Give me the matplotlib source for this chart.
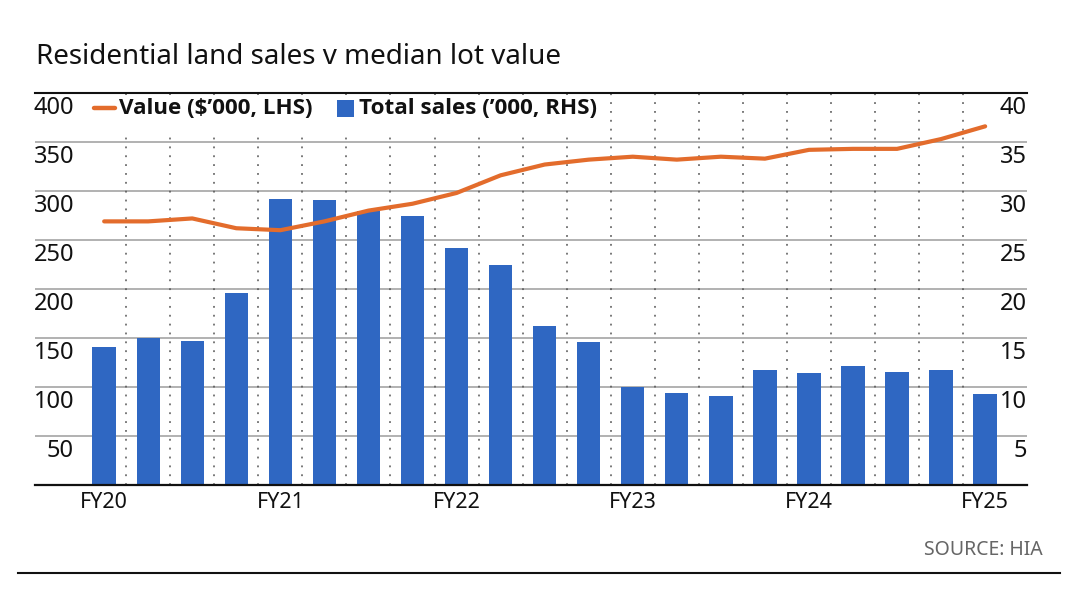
import matplotlib
matplotlib.use("Agg")
import matplotlib.pyplot as plt
import matplotlib.transforms as mtransforms
from matplotlib.lines import Line2D
from matplotlib.patches import Rectangle

# ---------------- data ----------------
x_labels = ["FY20", "FY21", "FY22", "FY23", "FY24", "FY25"]
x_label_pos = [0, 4, 8, 12, 16, 20]
sales = [14.1, 15.0, 14.7, 19.6, 29.2, 29.1, 28.0, 27.4, 24.2, 22.5, 16.2,
         14.6, 10.0, 9.4, 9.1, 11.7, 11.4, 12.1, 11.5, 11.7, 9.3]
value = [269, 269, 272, 262, 260, 269, 280, 287, 298, 316, 327,
         332, 335, 332, 335, 333, 342, 343, 343, 353, 366]
left_ticks = [50, 100, 150, 200, 250, 300, 350, 400]
right_ticks = [5, 10, 15, 20, 25, 30, 35, 40]

title = "Residential land sales v median lot value"
legend_value = "Value ($\u2019000, LHS)"
legend_sales = "Total sales (\u2019000, RHS)"
source = "SOURCE: HIA"

BLUE = "#2F67C2"
ORANGE = "#E36C2C"
FONT = "Noto Sans"
BOLD_FONT = "Open Sans"

W, H = 1080, 607
fig = plt.figure(figsize=(W / 100, H / 100), dpi=100)
plt.rcParams["font.family"] = [FONT, "DejaVu Sans"]

def fx(px):
    return px / W

def fy(py):
    return 1 - py / H

ax_l, ax_r, ax_t, ax_b = 35, 1027, 93, 485
rect = [fx(ax_l), fy(ax_b), fx(ax_r) - fx(ax_l), fy(ax_t) - fy(ax_b)]

ax2 = fig.add_axes(rect)           # bars (RHS scale)
ax = fig.add_axes(rect, sharex=ax2)  # line (LHS scale)
ax.patch.set_visible(False)

n = len(sales)
xs = list(range(n))

# grid on bar axes
for t in right_ticks[:-1]:
    ax2.axhline(t, color="#9c9c9c", lw=1.1, zorder=0.5)
for i in range(n - 1):
    ax2.axvline(i + 0.5, color="#555555", lw=1.1, linestyle=(0, (1.2, 4.6)),
                zorder=0.6)
ax2.bar(xs, sales, width=0.53, color=BLUE, zorder=2)
ax2.set_ylim(0, 40)
ax2.set_xlim(-1.57, 20.95)

ax.plot(xs, value, color=ORANGE, lw=3.0, solid_joinstyle="round",
        solid_capstyle="round", zorder=3)
ax.set_ylim(0, 400)
ax.axhline(400, color="#111111", lw=1.5, zorder=4, clip_on=False)

for a in (ax, ax2):
    for s in ("left", "right", "top"):
        a.spines[s].set_visible(False)
    a.set_yticks([])
ax2.spines["bottom"].set_visible(False)
ax.spines["bottom"].set_color("#111111")
ax.spines["bottom"].set_linewidth(1.6)

ax2.tick_params(axis="x", length=0, labelbottom=False)
ax.set_xticks(x_label_pos)
ax.set_xticklabels(x_labels, fontsize=15.5, color="#111111")
ax.tick_params(axis="x", length=0, pad=5)

# y tick labels inside the plot, just below their grid lines
off = mtransforms.ScaledTranslation(0, -15 / 100, fig.dpi_scale_trans)
tl = mtransforms.blended_transform_factory(fig.transFigure, ax.transData) + off
tr = mtransforms.blended_transform_factory(fig.transFigure, ax2.transData) + off
for t in left_ticks:
    fig.text(fx(74), t, str(t), transform=tl, ha="right", va="center",
             fontsize=17, color="#111111", zorder=6)
for t in right_ticks:
    fig.text(fx(1027), t, str(t), transform=tr, ha="right", va="center",
             fontsize=17, color="#111111", zorder=6)

# legend (white box covering the dotted lines)
fig.patches.append(Rectangle((fx(88), fy(131)), fx(608) - fx(88), fy(95) - fy(131),
                             transform=fig.transFigure, facecolor="white",
                             edgecolor="none", zorder=5))
fig.lines.append(Line2D([fx(94), fx(115)], [fy(108), fy(108)], transform=fig.transFigure,
                        color=ORANGE, lw=3.2, solid_capstyle="round", zorder=6))
fig.text(fx(119), fy(108), legend_value, ha="left", va="center", fontsize=16.1,
         fontweight="bold", family=[BOLD_FONT, "DejaVu Sans"], color="#111111", zorder=6)
fig.patches.append(Rectangle((fx(337), fy(117)), fx(354) - fx(337), fy(100) - fy(117),
                             transform=fig.transFigure, facecolor=BLUE,
                             edgecolor="none", zorder=6))
fig.text(fx(359), fy(108), legend_sales, ha="left", va="center", fontsize=16.1,
         fontweight="bold", family=[BOLD_FONT, "DejaVu Sans"], color="#111111", zorder=6)

# title, source, bottom rule
fig.text(fx(36), fy(57), title, ha="left", va="center", fontsize=20,
         color="#111111")
fig.text(fx(1043), fy(550), source, ha="right", va="center", fontsize=14,
         color="#666666")
fig.lines.append(Line2D([fx(18), fx(1060)], [fy(573), fy(573)], transform=fig.transFigure,
                        color="#111111", lw=1.5))

fig.savefig("out.png", dpi=100)
